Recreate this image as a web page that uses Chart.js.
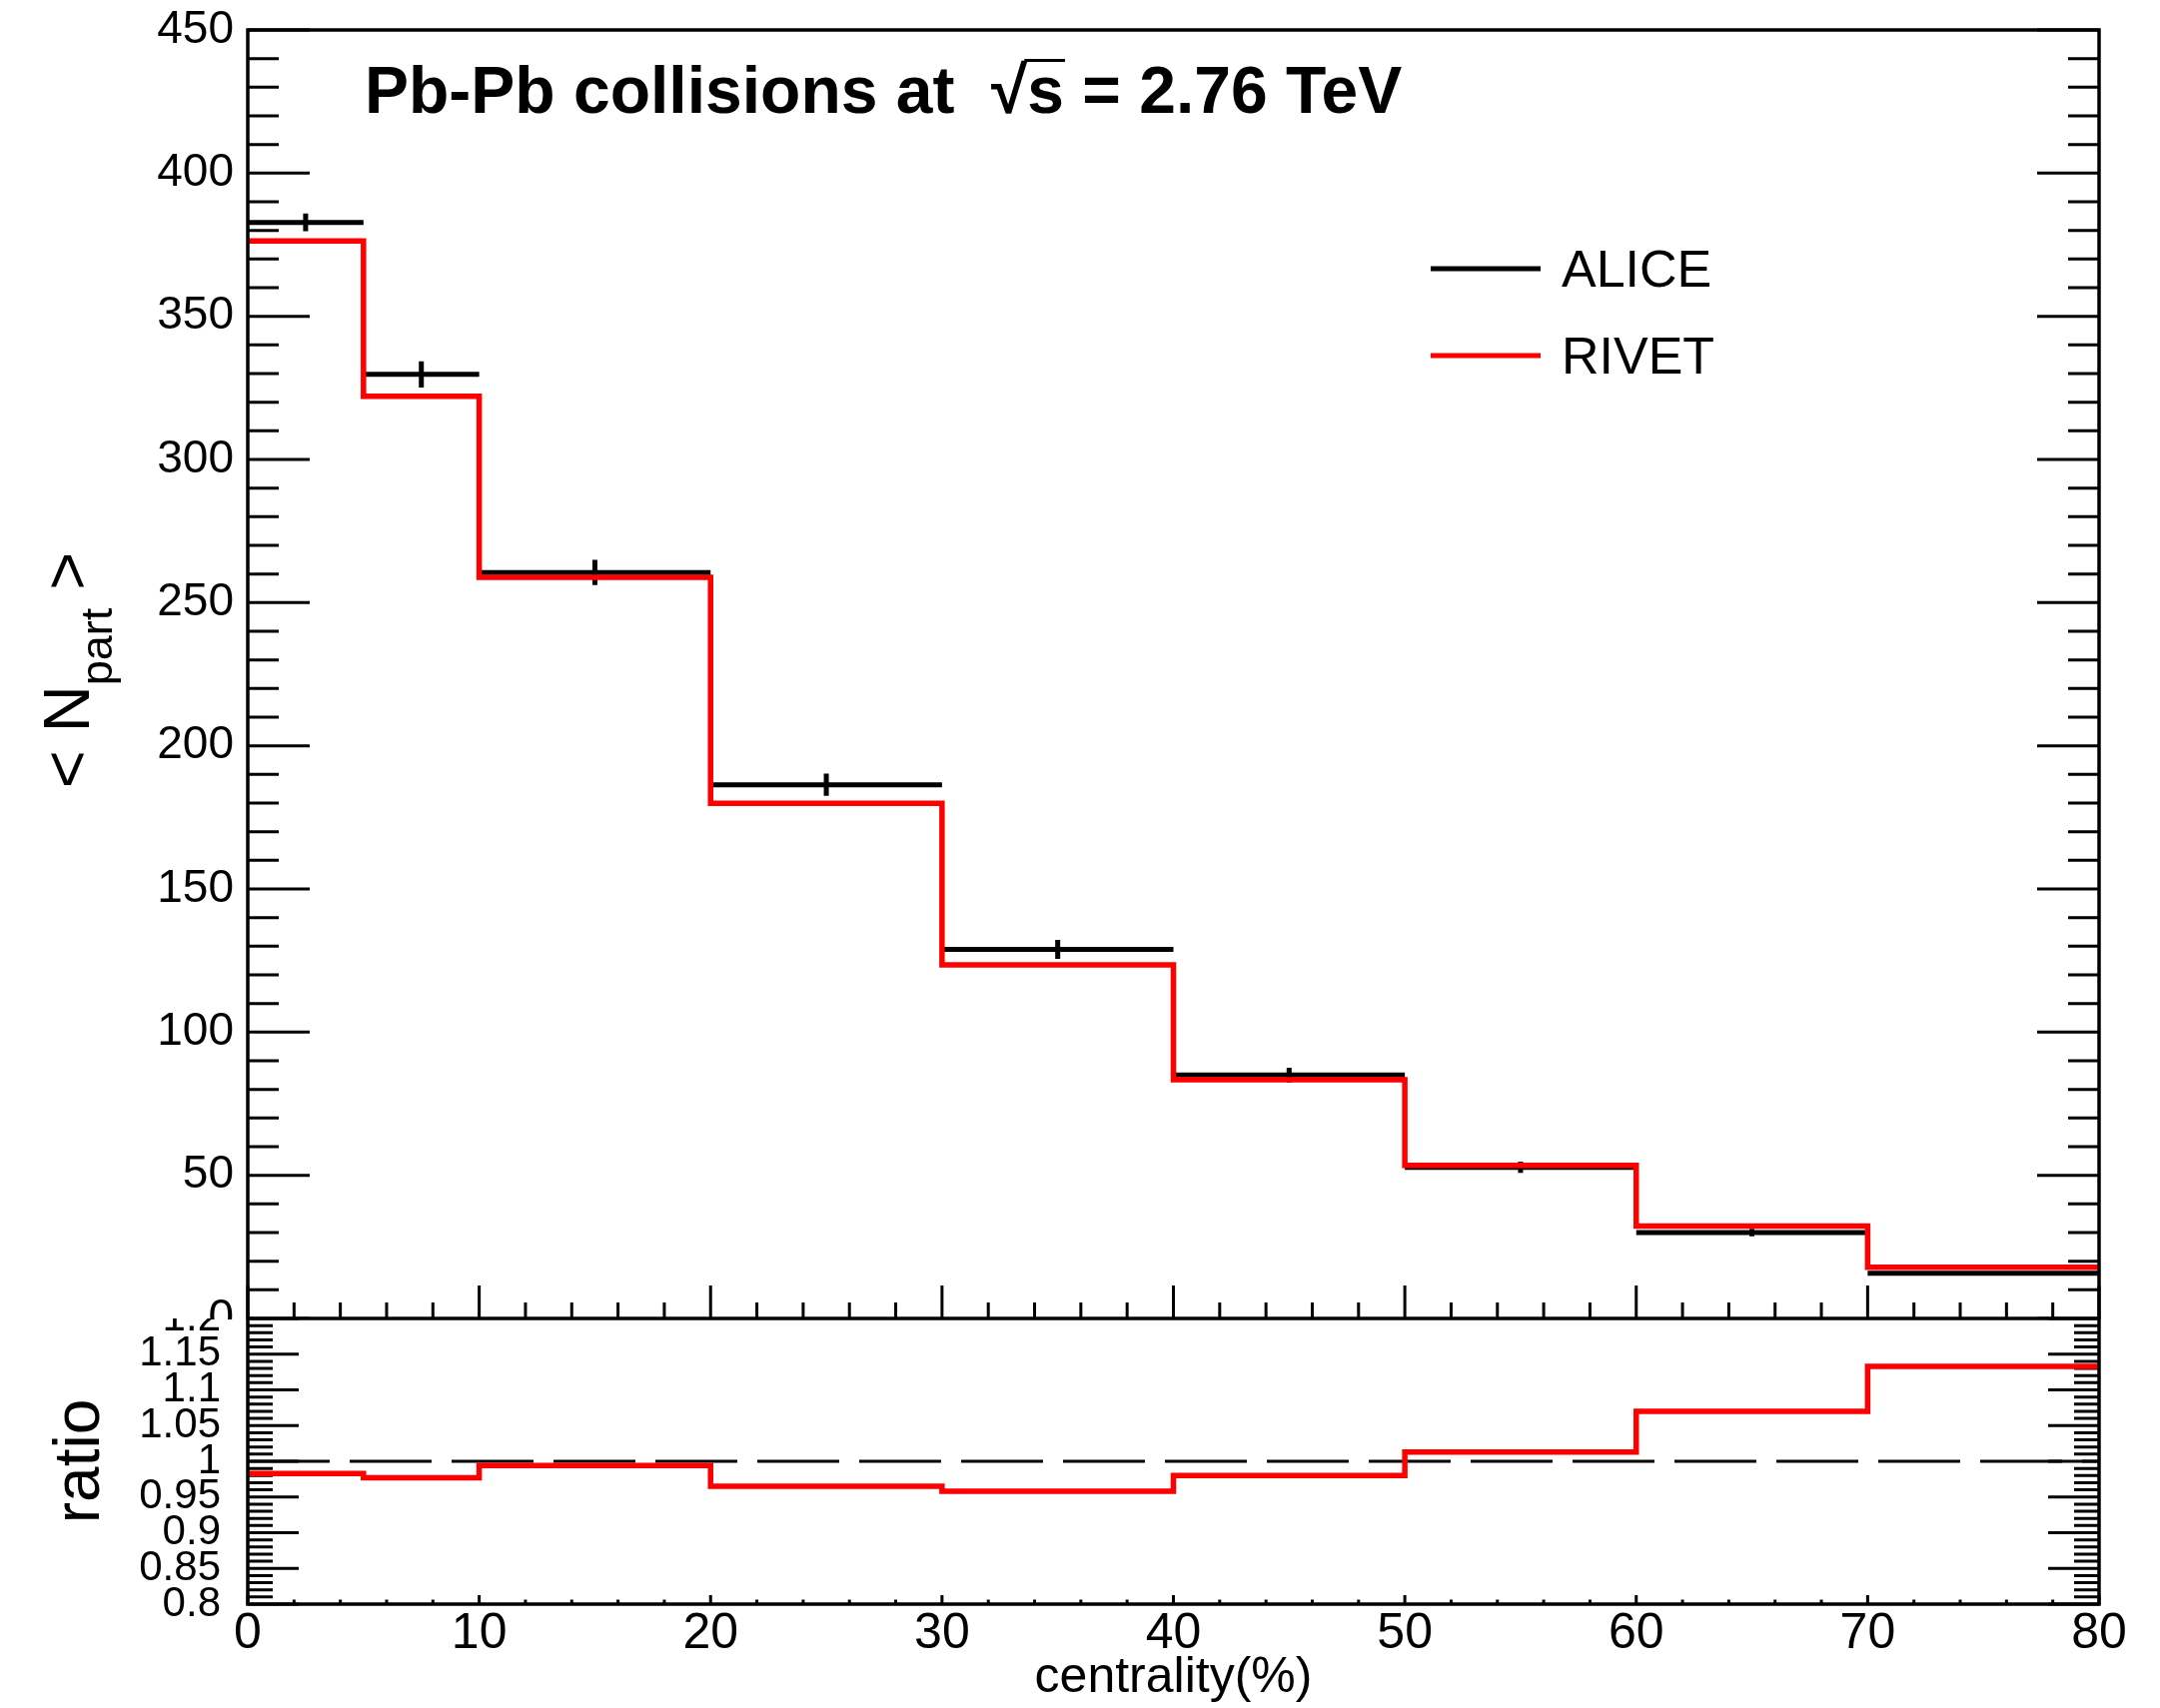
<!DOCTYPE html>
<html>
<head>
<meta charset="utf-8">
<title>Npart vs centrality, Pb-Pb 2.76 TeV</title>
<script src="https://cdn.jsdelivr.net/npm/chart.js@4.4.1/dist/chart.umd.min.js"></script>
<style>
  html, body { margin: 0; padding: 0; background: #fff; }
  #page { position: relative; width: 2162px; height: 1710px; overflow: hidden; background: #fff; }
  #mainPad { position: absolute; left: 0; top: 0; width: 2162px; height: 1321px; overflow: hidden; }
  #mainChart { position: absolute; left: 0; top: -20px; }
  #ratioPad { position: absolute; left: 0; top: 1320px; width: 2162px; height: 390px; overflow: hidden; }
  #ratioChart { position: absolute; left: 0; top: -60px; }
</style>
</head>
<body>
<div id="page">
  <div id="mainPad"><canvas id="mainChart" width="2162" height="1420"></canvas></div>
  <div id="ratioPad"><canvas id="ratioChart" width="2162" height="450"></canvas></div>
</div>
<script>
// centrality bin edges (%)
const edges = [0, 5, 10, 20, 30, 40, 50, 60, 70, 80];
// <Npart> per bin
const aliceNpart = [382.8, 329.7, 260.5, 186.4, 128.9, 85.0, 52.8, 30.0, 15.8];
const aliceError = [3.1, 4.6, 4.4, 3.9, 3.3, 2.6, 2.0, 1.3, 0.6];
const rivetNpart = [376.3, 322.1, 258.8, 179.9, 123.5, 83.4, 53.5, 32.3, 17.9];
// RIVET / ALICE
const ratioValues = [0.983, 0.977, 0.994, 0.965, 0.958, 0.980, 1.013, 1.070, 1.133];

const xTicks = [0, 10, 20, 30, 40, 50, 60, 70, 80];
const nPartTicks = [0, 50, 100, 150, 200, 250, 300, 350, 400, 450];
const ratioTicks = [0.8, 0.85, 0.9, 0.95, 1, 1.05, 1.1, 1.15, 1.2];

const family = "'Liberation Sans', Arial, Helvetica, sans-serif";
Chart.defaults.font.family = family;
Chart.defaults.color = '#000';

// canvas y of the upper pad's top edge is 20 px above the page
const mainShift = 20;

/**
 * histogram outline, each value held from its lower edge to the next one
 */
function stepPoints(values)
{
    const pts = values.map((v, i) => ({ x: edges[i], y: v }));
    pts.push({ x: edges[edges.length - 1], y: values[values.length - 1] });
    return pts;
}

// one separate horizontal segment per bin
function binSegments(values)
{
    const pts = [];
    values.forEach((v, i) => {
        pts.push({ x: edges[i], y: v }, { x: edges[i + 1], y: v }, { x: edges[i + 1], y: null });
    });
    return pts;
}

function errorBars(values, errors)
{
    const pts = [];
    values.forEach((v, i) => {
        const c = (edges[i] + edges[i + 1]) / 2;
        pts.push({ x: c, y: v - errors[i] }, { x: c, y: v + errors[i] }, { x: c, y: null });
    });
    return pts;
}

function minorValues(min, max, step)
{
    const n = Math.round((max - min) / step);
    const out = [];
    for (let i = 0; i <= n; i++) {
        out.push(min + i * step);
    }
    return out;
}

// ROOT style frame: ticks inside on left, right and bottom
const rootFrame = {
    id: 'rootFrame',
    beforeDatasetsDraw(chart, args, opts) {
        const { ctx, chartArea: a } = chart;
        const xs = chart.scales.x;
        const ys = chart.scales.y;
        ctx.save();
        ctx.strokeStyle = '#000';
        ctx.lineWidth = opts.tickWidth;
        ctx.beginPath();
        const yMarks = (values, len) => values.forEach(v => {
            const p = ys.getPixelForValue(v);
            ctx.moveTo(a.left, p);
            ctx.lineTo(a.left + len, p);
            ctx.moveTo(a.right, p);
            ctx.lineTo(a.right - len, p);
        });
        const xMarks = (values, len) => values.forEach(v => {
            const p = xs.getPixelForValue(v);
            ctx.moveTo(p, a.bottom);
            ctx.lineTo(p, a.bottom - len);
        });
        yMarks(minorValues(ys.min, ys.max, opts.yMinorStep), opts.yMinorLen);
        yMarks(opts.yMajor, opts.yMajorLen);
        xMarks(minorValues(xs.min, xs.max, opts.xMinorStep), opts.xMinorLen);
        xMarks(xTicks, opts.xMajorLen);
        ctx.stroke();
        ctx.restore();
    },
    afterDatasetsDraw(chart) {
        const { ctx, chartArea: a } = chart;
        ctx.save();
        ctx.lineWidth = 3.5;
        ctx.strokeStyle = '#000';
        ctx.strokeRect(a.left, a.top, a.right - a.left, a.bottom - a.top);
        ctx.restore();
    }
};

// title, legend and y title of the upper pad
const rootText = {
    id: 'rootText',
    afterDraw(chart) {
        const ctx = chart.ctx;
        ctx.save();
        ctx.translate(0, mainShift);
        ctx.fillStyle = '#000';
        ctx.textAlign = 'left';
        ctx.textBaseline = 'alphabetic';

        ctx.font = `bold 66px ${family}`;
        const head = 'Pb-Pb collisions at  \u221A';
        ctx.fillText(head + 's = 2.76 TeV', 365, 113);
        const sx = 365 + ctx.measureText(head).width;
        const sw = ctx.measureText('s').width;
        ctx.fillRect(sx - 3, 59, sw + 4, 3);

        // legend
        const rows = [
            { ds: chart.data.datasets[1], y: 269 },
            { ds: chart.data.datasets[0], y: 356 }
        ];
        ctx.font = `52px ${family}`;
        rows.forEach(r => {
            ctx.strokeStyle = r.ds.borderColor;
            ctx.lineWidth = 5;
            ctx.beginPath();
            ctx.moveTo(1432, r.y);
            ctx.lineTo(1542, r.y);
            ctx.stroke();
            ctx.fillText(r.ds.label, 1563, r.y + 18);
        });

        // < N_part >
        ctx.translate(89, 671);
        ctx.rotate(-Math.PI / 2);
        const big = `65px ${family}`;
        const small = `45px ${family}`;
        ctx.font = big;
        const wa = ctx.measureText('< N').width;
        const wc = ctx.measureText(' >').width;
        ctx.font = small;
        const wb = ctx.measureText('part').width;
        const x0 = -(wa + wb + wc) / 2;
        ctx.font = big;
        ctx.fillText('< N', x0, 0);
        ctx.font = small;
        ctx.fillText('part', x0 + wa, 23);
        ctx.font = big;
        ctx.fillText(' >', x0 + wa + wb, 0);
        ctx.restore();
    }
};

const tickLabel = v => String(v);

new Chart(document.getElementById('mainChart'), {
    type: 'line',
    data: {
        datasets: [
            {
                label: 'RIVET',
                data: stepPoints(rivetNpart),
                stepped: true,
                borderColor: '#ff0000',
                borderWidth: 5.5,
                pointRadius: 0,
                order: 0
            },
            {
                label: 'ALICE',
                data: binSegments(aliceNpart),
                borderColor: '#000000',
                borderWidth: 5,
                pointRadius: 0,
                spanGaps: false,
                order: 1
            },
            {
                label: 'ALICE errors',
                data: errorBars(aliceNpart, aliceError),
                borderColor: '#000000',
                borderWidth: 5,
                pointRadius: 0,
                spanGaps: false,
                order: 2
            }
        ]
    },
    options: {
        responsive: false,
        animation: false,
        events: [],
        layout: { padding: { left: 0, top: 30 + mainShift, right: 61, bottom: 80 } },
        plugins: {
            legend: { display: false },
            tooltip: { enabled: false },
            rootFrame: {
                tickWidth: 3,
                yMajor: nPartTicks, yMajorLen: 62, yMinorStep: 10, yMinorLen: 31,
                xMajorLen: 33, xMinorStep: 2, xMinorLen: 16
            }
        },
        scales: {
            x: { type: 'linear', min: 0, max: 80, display: false },
            y: {
                type: 'linear',
                min: 0,
                max: 450,
                afterBuildTicks: s => { s.ticks = nPartTicks.map(value => ({ value })); },
                ticks: { autoSkip: false, font: { size: 46 }, padding: 14, color: '#000', callback: tickLabel },
                grid: { display: false, drawTicks: false },
                border: { display: false },
                afterFit: s => { s.width = 248; }
            }
        }
    },
    plugins: [rootFrame, rootText]
});

new Chart(document.getElementById('ratioChart'), {
    type: 'line',
    data: {
        datasets: [
            {
                label: 'RIVET / ALICE',
                data: stepPoints(ratioValues),
                stepped: true,
                borderColor: '#ff0000',
                borderWidth: 5.5,
                pointRadius: 0,
                order: 0
            },
            {
                label: 'unity',
                data: [{ x: edges[0], y: 1 }, { x: edges[edges.length - 1], y: 1 }],
                borderColor: '#000000',
                borderWidth: 3,
                borderDash: [82, 20],
                pointRadius: 0,
                order: 1
            }
        ]
    },
    options: {
        responsive: false,
        animation: false,
        events: [],
        layout: { padding: { left: 0, top: 60, right: 61, bottom: 0 } },
        plugins: {
            legend: { display: false },
            tooltip: { enabled: false },
            rootFrame: {
                tickWidth: 3,
                yMajor: ratioTicks, yMajorLen: 51, yMinorStep: 0.01, yMinorLen: 25,
                xMajorLen: 9, xMinorStep: 2, xMinorLen: 4.5
            }
        },
        scales: {
            x: {
                type: 'linear',
                min: 0,
                max: 80,
                afterBuildTicks: s => { s.ticks = xTicks.map(value => ({ value })); },
                ticks: { autoSkip: false, maxRotation: 0, font: { size: 50, lineHeight: 1 }, padding: 5, color: '#000', callback: tickLabel },
                grid: { display: false, drawTicks: false },
                border: { display: false },
                title: { display: true, text: 'centrality(%)', color: '#000', font: { size: 50 }, padding: { top: 0, bottom: 0 } },
                afterFit: s => { s.height = 104; }
            },
            y: {
                type: 'linear',
                min: 0.8,
                max: 1.2,
                afterBuildTicks: s => { s.ticks = ratioTicks.map(value => ({ value })); },
                ticks: { autoSkip: false, font: { size: 42 }, padding: 27, color: '#000', callback: tickLabel },
                grid: { display: false, drawTicks: false },
                border: { display: false },
                title: { display: true, text: 'ratio', color: '#000', font: { size: 64 }, padding: { top: 43, bottom: 0 } },
                afterFit: s => { s.width = 248; }
            }
        }
    },
    plugins: [rootFrame]
});
</script>
</body>
</html>
